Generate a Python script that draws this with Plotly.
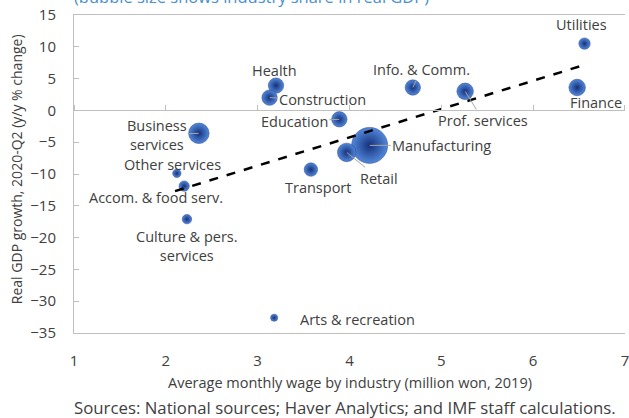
"""Korea: real GDP growth vs average wage, by industry (bubble chart)."""
import plotly.graph_objects as go

# Data
industries = ['Utilities', 'Finance', 'Prof. services', 'Info. & Comm.', 'Health',
              'Construction', 'Education', 'Manufacturing', 'Retail', 'Transport',
              'Business<br>services', 'Other services', 'Accom. & food serv.',
              'Culture & pers.<br>services', 'Arts & recreation']
wage = [6.56, 6.48, 5.26, 4.69, 3.20, 3.13, 3.89, 4.22, 3.97, 3.58,
        2.36, 2.12, 2.20, 2.23, 3.18]
gdp_growth = [10.5, 3.6, 3.0, 3.6, 3.9, 2.0, -1.4, -5.5, -6.6, -9.3,
              -3.6, -9.9, -11.9, -17.1, -32.6]
gdp_share = [2.8, 5.9, 5.9, 5.1, 5.1, 5.1, 5.1, 28.0, 7.4, 3.9,
             9.1, 1.5, 2.3, 1.9, 1.1]
trend_x = [2.1, 6.57]
trend_y = [-12.7, 7.2]
x_ticks = [1, 2, 3, 4, 5, 6, 7]

# label placement: (dx, dy) pixel offset of the label centre, leader line or not
label_pos = [(-3, -19, False), (19, 15, False), (18, 29, True), (9, -18, True),
             (-2, -15, False), (53, 2, True), (-45, 2, True), (72, 0, True),
             (32, 26, True), (7, 18, False), (-42, 2, True), (-4, -9, False),
             (-28, 11, False), (0, 27, False), (83, 2, False)]

FONT = 'Open Sans, Noto Sans, sans-serif'
TEXT = '#404040'
AXIS = '#bfbfbf'

fig = go.Figure()

fig.add_trace(go.Scatter(
    x=wage, y=gdp_growth, mode='markers',
    marker=dict(size=gdp_share, sizemode='area',
                sizeref=2 * max(gdp_share) / (36 ** 2),
                color='#5288da',
                gradient=dict(type='radial', color='#15307a'),
                line=dict(width=0.5, color='#22408a'),
                opacity=1),
    hovertext=industries, showlegend=False
))

# trend line, attached to the overlay x axis that sits on y = 0
fig.add_trace(go.Scatter(
    x=trend_x, y=trend_y, mode='lines', xaxis='x2', yaxis='y',
    line=dict(color='black', width=2.5, dash='dash'),
    showlegend=False, hoverinfo='skip'
))

for name, x, y, (dx, dy, line) in zip(industries, wage, gdp_growth, label_pos):
    if line:
        fig.add_annotation(x=x, y=y, text=name, showarrow=True, ax=dx, ay=dy,
                           arrowhead=0, arrowwidth=1, arrowcolor='#a6a6a6',
                           standoff=0, font=dict(family=FONT, size=14.5, color=TEXT))
    else:
        fig.add_annotation(x=x, y=y, text=name, showarrow=False, xshift=dx, yshift=-dy,
                           font=dict(family=FONT, size=14.5, color=TEXT))

fig.add_annotation(text='(bubble size shows industry share in real GDP)',
                   xref='paper', yref='paper', x=-0.003, y=1.058, xanchor='left',
                   yanchor='middle', showarrow=False,
                   font=dict(family=FONT, size=16.5, color='#4a8fd0'))
fig.add_annotation(text='Real GDP growth, 2020-Q2 (y/y % change)',
                   xref='paper', yref='paper', x=-0.103, y=0.516, textangle=-90,
                   xanchor='center', yanchor='middle',
                   showarrow=False, font=dict(family=FONT, size=14, color=TEXT))
fig.add_annotation(text='Average monthly wage by industry (million won, 2019)',
                   xref='paper', yref='paper', x=0.5, y=-0.157, yanchor='middle',
                   showarrow=False, font=dict(family=FONT, size=14.5, color=TEXT))
fig.add_annotation(text='Sources: National sources; Haver Analytics; and IMF staff calculations.',
                   xref='paper', yref='paper', x=-0.004, y=-0.233, xanchor='left',
                   yanchor='middle', showarrow=False,
                   font=dict(family=FONT, size=16.8, color=TEXT))

fig.update_layout(
    width=629, height=418,
    margin=dict(l=74, r=0, t=15, b=85),
    paper_bgcolor='white', plot_bgcolor='white',
    xaxis=dict(range=[1, 7.001], tickvals=x_ticks, showgrid=False,
               zeroline=False, showline=True, linecolor=AXIS, linewidth=1,
               mirror=True, ticks='', ticklabelstandoff=14,
               ticklabeloverflow='allow',
               tickfont=dict(family=FONT, size=15, color=TEXT)),
    xaxis2=dict(range=[1, 7.001], overlaying='x', anchor='free', position=0.7,
                side='top', tickvals=x_ticks, ticks='outside',
                ticklen=5, tickcolor=AXIS, showticklabels=False, showgrid=False,
                zeroline=False, showline=True, linecolor=AXIS, linewidth=1),
    yaxis=dict(range=[-35, 15], dtick=5, showgrid=False, zeroline=False,
               showline=True, linecolor=AXIS, linewidth=1,
               ticks='inside', ticklen=5, tickcolor=AXIS, ticklabelstandoff=14,
               tickfont=dict(family=FONT, size=15, color=TEXT)),
)

# drop the page's default body margin so the figure sits at the window's corner
fig.write_html('out.html', config={'displayModeBar': False},
               post_script="document.body.style.margin='0';")
